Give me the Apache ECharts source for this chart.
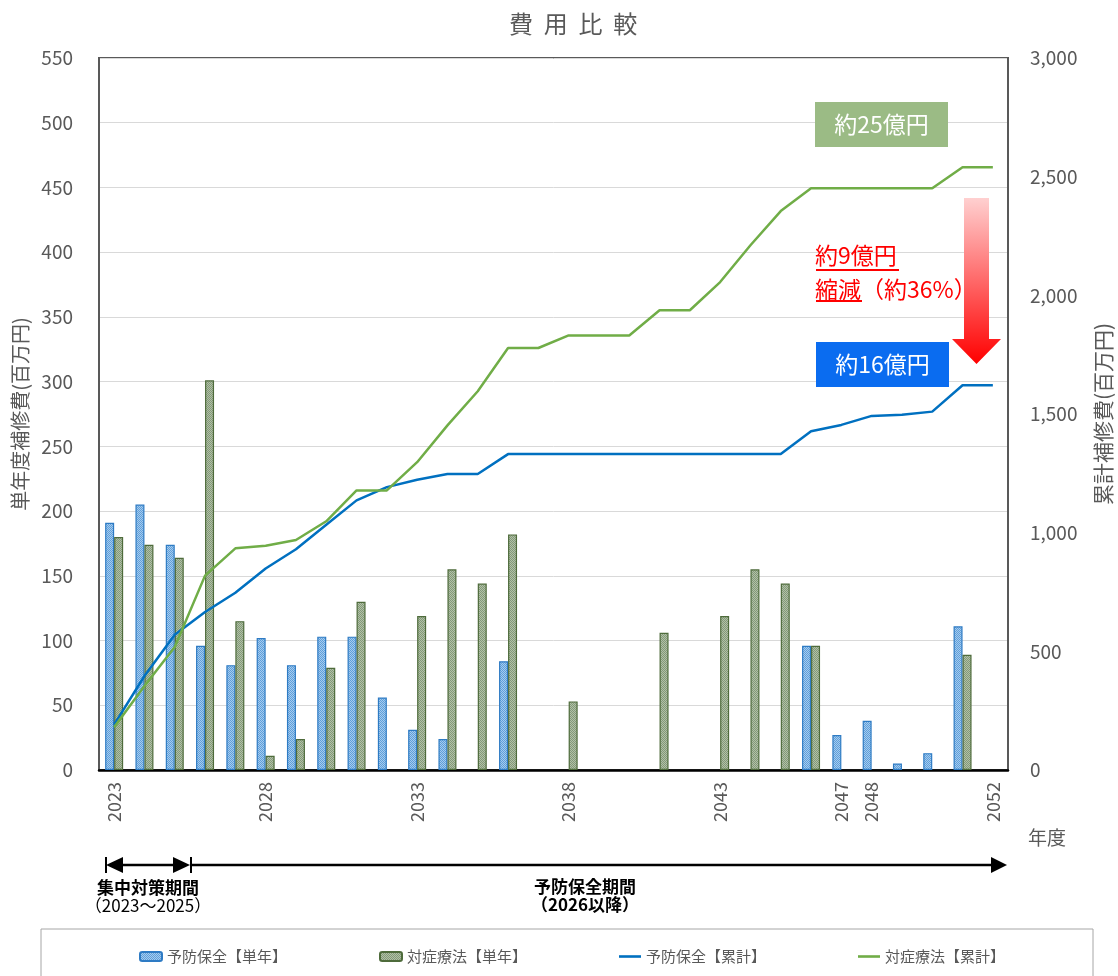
<!DOCTYPE html>
<html>
<head>
<meta charset="utf-8">
<script src="https://cdn.jsdelivr.net/npm/echarts@6/dist/echarts.min.js"></script>
<style>
html,body{margin:0;padding:0;background:#fff;overflow:hidden;}
#chart{width:1118px;height:976px;}
</style>
</head>
<body>
<div id="chart"></div>
<script>
// ---- data ----
var years = ['2023','2024','2025','2026','2027','2028','2029','2030','2031','2032',
             '2033','2034','2035','2036','2037','2038','2039','2040','2041','2042',
             '2043','2044','2045','2046','2047','2048','2049','2050','2051','2052'];
var shownYears = ['2023','2028','2033','2038','2043','2047','2048','2052'];
// 予防保全【単年】 (百万円)
var yoboSingle = [191,205,174,96,81,102,81,103,103,56,
                  31,24,null,84,null,null,null,null,null,null,
                  null,null,null,96,27,38,5,13,111,null];
// 対症療法【単年】 (百万円)
var taishoSingle = [180,174,164,301,115,11,24,79,130,null,
                    119,155,144,182,null,53,null,null,106,null,
                    119,155,144,96,null,null,null,null,89,null];
// 予防保全【累計】 (百万円)
var yoboCum = [191,396,570,666,747,849,930,1033,1136,1192,
               1223,1247,1247,1331,1331,1331,1331,1331,1331,1331,
               1331,1331,1331,1427,1454,1492,1497,1510,1621,1621];
// 対症療法【累計】 (百万円)
var taishoCum = [180,354,518,819,934,945,969,1048,1178,1178,
                 1297,1452,1596,1778,1778,1831,1831,1831,1937,1937,
                 2056,2211,2355,2451,2451,2451,2451,2451,2540,2540];
var leftTicks = {min:0, max:550, interval:50};
var rightTicks = {min:0, max:3000, interval:500};

function makePattern(c1, c2) {
  var cv = document.createElement('canvas');
  cv.width = 2; cv.height = 2;
  var ctx = cv.getContext('2d');
  ctx.fillStyle = c1; ctx.fillRect(0,0,2,2);
  ctx.fillStyle = c2; ctx.fillRect(0,0,1,1); ctx.fillRect(1,1,1,1);
  return {image: cv, repeat: 'repeat'};
}
var bluePat = makePattern('#A6CBEE', '#5E9FDA');
var greenPat = makePattern('#B2C1A5', '#82987A');
var lineIcon = 'path://M0,0L22,0L22,2.6L0,2.6Z';

var FONT = '"Noto Sans CJK JP", "Noto Sans", sans-serif';
var chart = echarts.init(document.getElementById('chart'));
var option = {
  backgroundColor: '#ffffff',
  animation: false,
  textStyle: {fontFamily: FONT},
  title: {
    text: '費  用  比  較',
    left: 504,
    top: 7,
    textStyle: {fontSize: 24, fontWeight: 'normal', color: '#595959', fontFamily: FONT}
  },
  legend: {
    left: 134,
    top: 944,
    itemGap: 92,
    itemWidth: 22,
    itemHeight: 9,
    textStyle: {fontSize: 15, color: '#595959', fontFamily: FONT},
    data: [
      {name: '予防保全【単年】'},
      {name: '対症療法【単年】'},
      {name: '予防保全【累計】', icon: lineIcon},
      {name: '対症療法【累計】', icon: lineIcon}
    ]
  },
  grid: {
    left: 99, right: 110, top: 58, bottom: 206,
    containLabel: false,
    outerBoundsMode: 'none',
    show: true, borderColor: '#595959', borderWidth: 2, backgroundColor: 'transparent'
  },
  xAxis: {
    type: 'category',
    data: years,
    boundaryGap: true,
    axisLine: {show: true, lineStyle: {color: '#000000', width: 2.5}},
    axisTick: {show: false},
    axisLabel: {
      rotate: 90, interval: 0, margin: 12,
      fontSize: 18, color: '#595959', fontFamily: FONT,
      formatter: function (v) { return shownYears.indexOf(v) >= 0 ? v : ''; }
    },
    splitLine: {show: false}
  },
  yAxis: [
    {
      type: 'value',
      min: leftTicks.min, max: leftTicks.max, interval: leftTicks.interval,
      name: '単年度補修費(百万円)',
      nameLocation: 'middle',
      nameRotate: 90,
      nameGap: 66,
      nameTextStyle: {fontSize: 20, color: '#595959', fontFamily: FONT},
      axisLine: {show: true, lineStyle: {color: '#595959', width: 2}},
      axisTick: {show: false},
      axisLabel: {fontSize: 19, color: '#595959', margin: 26, fontFamily: FONT},
      splitLine: {show: true, lineStyle: {color: '#D9D9D9', width: 1}}
    },
    {
      type: 'value',
      min: rightTicks.min, max: rightTicks.max, interval: rightTicks.interval,
      name: '累計補修費(百万円)',
      nameLocation: 'middle',
      nameRotate: 90,
      nameGap: 85,
      nameTextStyle: {fontSize: 21, color: '#595959', fontFamily: FONT},
      position: 'right',
      axisLine: {show: true, lineStyle: {color: '#595959', width: 2}},
      axisTick: {show: false},
      axisLabel: {
        fontSize: 19, color: '#595959', margin: 22, fontFamily: FONT,
        formatter: function (v) { return v.toLocaleString('en-US'); }
      },
      splitLine: {show: false}
    }
  ],
  series: [
    {
      name: '予防保全【単年】', type: 'bar', yAxisIndex: 0,
      data: yoboSingle, barWidth: 9, barGap: '0%',
      itemStyle: {color: bluePat, borderColor: '#2E7BC4', borderWidth: 1.2},
      z: 2
    },
    {
      name: '対症療法【単年】', type: 'bar', yAxisIndex: 0,
      data: taishoSingle, barWidth: 9, barGap: '0%',
      itemStyle: {color: greenPat, borderColor: '#4E6B3B', borderWidth: 1.2},
      z: 2
    },
    {
      name: '予防保全【累計】', type: 'line', yAxisIndex: 1,
      data: yoboCum, symbol: 'none', smooth: false,
      lineStyle: {color: '#0070C0', width: 2.5},
      itemStyle: {color: '#0070C0'},
      z: 5
    },
    {
      name: '対症療法【累計】', type: 'line', yAxisIndex: 1,
      data: taishoCum, symbol: 'none', smooth: false,
      lineStyle: {color: '#70AD47', width: 2.5},
      itemStyle: {color: '#70AD47'},
      z: 5
    }
  ],
  graphic: [
    // 約25億円 box
    {type: 'rect', shape: {x: 815, y: 102, width: 133, height: 45}, style: {fill: '#9BBB85'}, z: 10},
    {type: 'text', x: 881.5, y: 124.5, style: {text: '約25億円', fill: '#ffffff', font: '23px ' + FONT, textAlign: 'center', textVerticalAlign: 'middle'}, z: 11},
    // 約16億円 box
    {type: 'rect', shape: {x: 816, y: 342, width: 133, height: 45}, style: {fill: '#0A6CF0'}, z: 10},
    {type: 'text', x: 882.5, y: 364.5, style: {text: '約16億円', fill: '#ffffff', font: '23px ' + FONT, textAlign: 'center', textVerticalAlign: 'middle'}, z: 11},
    // reduction note
    {type: 'text', x: 815, y: 255, style: {text: '約9億円', fill: '#FF0000', font: '23px ' + FONT, textAlign: 'left', textVerticalAlign: 'middle'}, z: 11},
    {type: 'text', x: 815, y: 289, style: {text: '縮減（約36%）', fill: '#FF0000', font: '23px ' + FONT, textAlign: 'left', textVerticalAlign: 'middle'}, z: 11},
    {type: 'line', shape: {x1: 816, y1: 270, x2: 899, y2: 270}, style: {stroke: '#FF0000', lineWidth: 1.8}, z: 11},
    {type: 'line', shape: {x1: 816, y1: 301, x2: 862, y2: 301}, style: {stroke: '#FF0000', lineWidth: 1.8}, z: 11},
    // gradient down arrow
    {type: 'polygon', shape: {points: [[964,198],[989,198],[989,339],[1001,339],[976.5,364],[952,339],[964,339]]},
     style: {fill: new echarts.graphic.LinearGradient(0,0,0,1,[{offset:0,color:'#FFD0D0'},{offset:1,color:'#FF0000'}])}, z: 10},
    // 年度
    {type: 'text', x: 1047, y: 838, style: {text: '年度', fill: '#595959', font: '19px ' + FONT, textAlign: 'center', textVerticalAlign: 'middle'}, z: 11},
    // timeline: 集中対策期間
    {type: 'line', shape: {x1: 106, y1: 857, x2: 106, y2: 873}, style: {stroke: '#000', lineWidth: 2}, z: 11},
    {type: 'line', shape: {x1: 110, y1: 865, x2: 185, y2: 865}, style: {stroke: '#000', lineWidth: 2.5}, z: 11},
    {type: 'polygon', shape: {points: [[106,865],[123,857],[123,873]]}, style: {fill: '#000'}, z: 11},
    {type: 'polygon', shape: {points: [[190,865],[173,857],[173,873]]}, style: {fill: '#000'}, z: 11},
    {type: 'line', shape: {x1: 191, y1: 857, x2: 191, y2: 873}, style: {stroke: '#000', lineWidth: 2}, z: 11},
    // timeline: 予防保全期間
    {type: 'line', shape: {x1: 191, y1: 865, x2: 995, y2: 865}, style: {stroke: '#000', lineWidth: 2.5}, z: 11},
    {type: 'polygon', shape: {points: [[1007,865],[991,857],[991,873]]}, style: {fill: '#000'}, z: 11},
    {type: 'text', x: 148, y: 888, style: {text: '集中対策期間', fill: '#000', font: 'bold 17px ' + FONT, textAlign: 'center', textVerticalAlign: 'middle'}, z: 11},
    {type: 'text', x: 148, y: 906, style: {text: '（2023～2025）', fill: '#000', font: '17px ' + FONT, textAlign: 'center', textVerticalAlign: 'middle'}, z: 11},
    {type: 'text', x: 585, y: 887, style: {text: '予防保全期間', fill: '#000', font: 'bold 17px ' + FONT, textAlign: 'center', textVerticalAlign: 'middle'}, z: 11},
    {type: 'text', x: 585, y: 905, style: {text: '（2026以降）', fill: '#000', font: 'bold 17px ' + FONT, textAlign: 'center', textVerticalAlign: 'middle'}, z: 11},
    // legend frame
    {type: 'rect', shape: {x: 41, y: 929, width: 1052, height: 60}, style: {fill: 'none', stroke: '#A6A6A6', lineWidth: 1}, z: 1}
  ]
};
chart.setOption(option);
</script>
</body>
</html>
